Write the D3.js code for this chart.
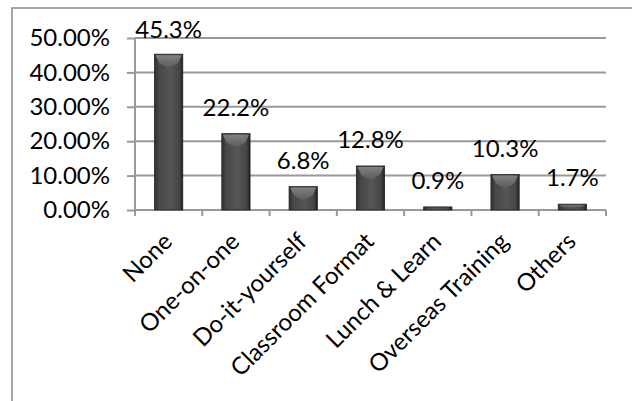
<!DOCTYPE html>
<html lang="en">
<head>
  <meta charset="UTF-8">
  <title>Training types</title>
  <script src="https://cdn.jsdelivr.net/npm/d3@7"></script>
  <style>
    body { margin: 0; background: #fff; }
    .axis path { display: none; }
    .axis line { stroke: #999; stroke-width: 2; }
    text { font-family: Lato, "Open Sans", sans-serif; fill: #000; }
  </style>
</head>
<body>
  <script>
    // data
    var categories = ["None", "One-on-one", "Do-it-yourself", "Classroom Format",
                      "Lunch & Learn", "Overseas Training", "Others"];
    var shares = [45.3, 22.2, 6.8, 12.8, 0.9, 10.3, 1.7];
    var yTicks = [0, 0.1, 0.2, 0.3, 0.4, 0.5];

    var w = 632, h = 401;
    var plotLeft = 135, plotRight = 606, plotTop = 38, plotBottom = 210;

    var svg = d3.select("body").append("svg")
      .attr("width", w)
      .attr("height", h);

    svg.append("rect").attr("width", w).attr("height", h).attr("fill", "#fff");

    // chart border (right and bottom fall outside the picture)
    svg.append("path")
      .attr("d", "M12," + h + "V8H" + w)
      .attr("fill", "none")
      .attr("stroke", "#8a8a8a")
      .attr("stroke-width", 1.5);

    var x = d3.scaleBand()
      .domain(categories)
      .range([plotLeft, plotRight]);

    var y = d3.scaleLinear()
      .domain([0, 0.5])
      .range([plotBottom, plotTop]);

    // gradients for the bevelled bars
    var defs = svg.append("defs");
    var g1 = defs.append("linearGradient").attr("id", "barFill")
      .attr("x1", 0).attr("x2", 1).attr("y1", 0).attr("y2", 0);
    g1.append("stop").attr("offset", "0%").attr("stop-color", "#2e2e2e");
    g1.append("stop").attr("offset", "15%").attr("stop-color", "#474747");
    g1.append("stop").attr("offset", "55%").attr("stop-color", "#565656");
    g1.append("stop").attr("offset", "88%").attr("stop-color", "#454545");
    g1.append("stop").attr("offset", "100%").attr("stop-color", "#1f1f1f");

    var g2 = defs.append("linearGradient").attr("id", "capFill")
      .attr("x1", 0).attr("x2", 0).attr("y1", 0).attr("y2", 1);
    g2.append("stop").attr("offset", "0%").attr("stop-color", "#8a8a8a");
    g2.append("stop").attr("offset", "100%").attr("stop-color", "#5a5a5a");

    // gridlines
    svg.append("g")
      .selectAll("line")
      .data(yTicks)
      .enter()
      .append("line")
      .attr("x1", plotLeft)
      .attr("x2", plotRight)
      .attr("y1", d => y(d))
      .attr("y2", d => y(d))
      .attr("stroke", "#999")
      .attr("stroke-width", 2);

    // y axis
    var yAxis = d3.axisLeft(y)
      .tickValues(yTicks)
      .tickFormat(d3.format(".2%"))
      .tickSize(8)
      .tickPadding(17);

    svg.append("g")
      .attr("class", "axis")
      .attr("transform", "translate(" + plotLeft + ",0)")
      .call(yAxis)
      .selectAll("text")
      .attr("font-size", "24px")
      .attr("font-family", "Lato, 'Open Sans', sans-serif");

    svg.append("line")
      .attr("x1", plotLeft).attr("x2", plotLeft)
      .attr("y1", plotTop).attr("y2", plotBottom + 6)
      .attr("stroke", "#999").attr("stroke-width", 2);

    // category ticks on the boundaries
    var bounds = categories.map(c => x(c)).concat([plotRight]);
    svg.append("g")
      .selectAll("line")
      .data(bounds)
      .enter()
      .append("line")
      .attr("x1", d => d).attr("x2", d => d)
      .attr("y1", plotBottom).attr("y2", plotBottom + 6)
      .attr("stroke", "#999").attr("stroke-width", 2);

    var bw = x.bandwidth() * 0.42;

    var bars = svg.append("g")
      .selectAll("g")
      .data(shares)
      .enter()
      .append("g")
      .attr("transform", (d, i) => "translate(" + (x(categories[i]) + x.bandwidth() / 2) + ",0)");

    bars.append("rect")
      .attr("x", -bw / 2)
      .attr("y", d => y(d / 100))
      .attr("width", bw)
      .attr("height", d => plotBottom - y(d / 100))
      .attr("fill", "url(#barFill)")
      .attr("stroke", "#222")
      .attr("stroke-width", 0.8);

    // bevel on top
    bars.append("path")
      .attr("d", function(d) {
        var t = y(d / 100);
        var depth = Math.min(9, (plotBottom - t) / 2);
        var tip = t + depth + 5 > plotBottom ? t + depth : t + depth + 5;
        return "M" + (-bw / 2 + 1) + "," + (t + 1) + "H" + (bw / 2 - 1) +
               "L" + (bw / 2 - 5) + "," + (t + depth) + "L0," + tip +
               "L" + (-bw / 2 + 5) + "," + (t + depth) + "Z";
      })
      .attr("fill", "url(#capFill)")
      .attr("opacity", 0.85);

    // value labels
    bars.append("text")
      .attr("x", 0)
      .attr("y", d => Math.max(38, y(d / 100) - 18))
      .attr("text-anchor", "middle")
      .attr("font-size", "24px")
      .text(d => d.toFixed(1) + "%");

    // rotated category labels
    svg.append("g")
      .selectAll("text")
      .data(categories)
      .enter()
      .append("text")
      .attr("transform", d => "translate(" + (x(d) + x.bandwidth() / 2 - 1) + "," + (plotBottom + 27) + ") rotate(-45)")
      .attr("text-anchor", "end")
      .attr("dy", "0.35em")
      .attr("font-size", "24px")
      .text(d => d);
  </script>
</body>
</html>
